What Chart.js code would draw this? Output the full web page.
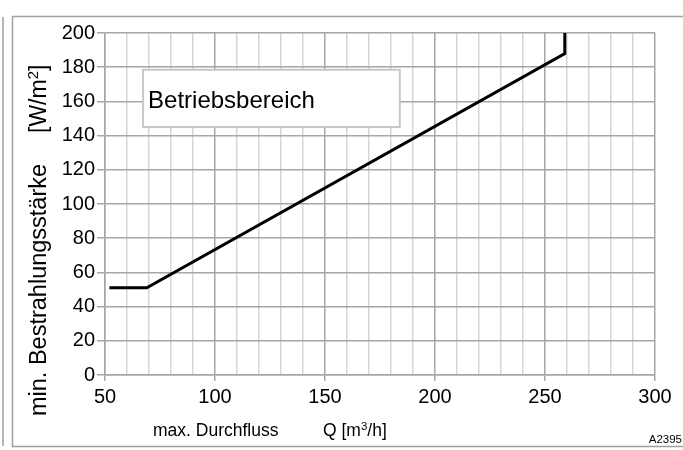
<!DOCTYPE html>
<html>
<head>
<meta charset="utf-8">
<script src="https://cdn.jsdelivr.net/npm/chart.js@4/dist/chart.umd.min.js"></script>
<style>
  body { margin: 0; background: #fff; }
  #wrap { width: 683px; height: 450px; position: relative; }
</style>
</head>
<body>
<div id="wrap"><canvas id="kennlinie"></canvas></div>
<script>
// Kennlinie: max. Durchfluss Q [m3/h] -> min. Bestrahlungsstärke [W/m2]
const durchfluss = [52, 69, 259, 259];
const bestrahlung = [51, 51, 188, 200];

const xTickLabels = [50, 100, 150, 200, 250, 300];
const yTickLabels = [0, 20, 40, 60, 80, 100, 120, 140, 160, 180, 200];

const yTitel = 'min. Bestrahlungsstärke';
const xTitel = 'max. Durchfluss';
const bereichText = 'Betriebsbereich';
const bildNr = 'A2395';

const schrift = '"Liberation Sans", Arial, sans-serif';
const grauDunkel = '#a6a6a6';
const grauHell = '#d6d6d6';

// Text mit hochgestelltem Teil, z.B. [W/m] + 2 + ]
function hochText(c, teile, x, y, gross, klein) {
    let pos = x;
    teile.forEach(([t, hoch]) => {
        c.font = (hoch ? klein : gross) + 'px ' + schrift;
        c.fillText(t, pos, hoch ? y - gross * 0.36 : y);
        pos += c.measureText(t).width;
    });
}

// Rahmen, Textfeld und Achsentitel
const rahmenPlugin = {
    id: 'rahmen',
    beforeDraw(chart) {
        const c = chart.ctx;
        c.save();
        c.strokeStyle = '#a0a0a0';
        c.lineWidth = 1.5;
        c.beginPath();
        c.moveTo(3, 17);
        c.lineTo(3, 446);
        c.moveTo(700, 16.5);
        c.lineTo(12.5, 16.5);
        c.lineTo(12.5, 446.5);
        c.lineTo(700, 446.5);
        c.stroke();
        c.restore();
    },
    beforeDatasetsDraw(chart) {
        const c = chart.ctx;
        const xs = chart.scales.x, ys = chart.scales.y;
        const x0 = xs.getPixelForValue(67.3), x1 = xs.getPixelForValue(184);
        const y0 = ys.getPixelForValue(178.5), y1 = ys.getPixelForValue(145);
        c.save();
        c.fillStyle = '#fff';
        c.fillRect(x0, y0, x1 - x0, y1 - y0);
        c.strokeStyle = '#c8c8c8';
        c.lineWidth = 2;
        c.strokeRect(x0, y0, x1 - x0, y1 - y0);
        c.fillStyle = '#000';
        c.font = '24px ' + schrift;
        c.textBaseline = 'alphabetic';
        c.fillText(bereichText, x0 + 5, y0 + 38);
        c.restore();
    },
    afterDraw(chart) {
        const c = chart.ctx;
        c.save();
        c.fillStyle = '#000';
        c.translate(46, 0);
        c.rotate(-Math.PI / 2);
        c.textAlign = 'left';
        c.font = '23.5px ' + schrift;
        c.fillText(yTitel, -416, 0);
        hochText(c, [['[W/m', false], ['2', true], [']', false]], -133, 0, 23, 15);
        c.restore();

        c.save();
        c.fillStyle = '#000';
        c.font = '17.5px ' + schrift;
        c.fillText(xTitel, 153, 436);
        hochText(c, [['Q [m', false], ['3', true], ['/h]', false]], 323, 436, 17.5, 11.5);
        c.font = '11.5px ' + schrift;
        c.textAlign = 'right';
        c.fillText(bildNr, 682, 443);
        c.restore();
    }
};

function initChart() {
    const ctx = document.getElementById('kennlinie').getContext('2d');
    new Chart(ctx, {
        type: 'scatter',
        data: {
            datasets: [{
                data: durchfluss.map((q, i) => ({ x: q, y: bestrahlung[i] })),
                showLine: true,
                borderColor: '#000',
                borderWidth: 3,
                pointRadius: 0,
                tension: 0,
                fill: false
            }]
        },
        options: {
            responsive: true,
            maintainAspectRatio: false,
            animation: false,
            layout: { padding: { top: 33, right: 28, left: 0, bottom: 0 } },
            plugins: {
                legend: { display: false },
                tooltip: { enabled: false }
            },
            scales: {
                x: {
                    type: 'linear',
                    min: 50,
                    max: 300,
                    afterFit: s => { s.height = 75; },
                    border: { color: grauDunkel, width: 1.5 },
                    grid: {
                        color: c => c.tick && c.tick.value % 50 === 0 ? grauDunkel : grauHell,
                        lineWidth: 1.5,
                        tickLength: 6,
                        tickColor: c => c.tick && c.tick.value % 50 === 0 ? grauDunkel : 'transparent'
                    },
                    ticks: {
                        stepSize: 10,
                        autoSkip: false,
                        maxRotation: 0,
                        padding: 4,
                        color: '#000',
                        font: { family: schrift, size: 20 },
                        callback: v => xTickLabels.includes(v) ? String(v) : ''
                    }
                },
                y: {
                    min: 0,
                    max: 200,
                    afterFit: s => { s.width = 105; },
                    border: { color: grauDunkel, width: 1.5 },
                    grid: {
                        color: grauDunkel,
                        lineWidth: 1.5,
                        tickLength: 8,
                        tickColor: grauDunkel
                    },
                    ticks: {
                        stepSize: 20,
                        autoSkip: false,
                        padding: 2,
                        color: '#000',
                        font: { family: schrift, size: 20 },
                        callback: v => yTickLabels.includes(v) ? String(v) : ''
                    }
                }
            }
        },
        plugins: [rahmenPlugin]
    });
}

document.addEventListener('DOMContentLoaded', initChart);
</script>
</body>
</html>
